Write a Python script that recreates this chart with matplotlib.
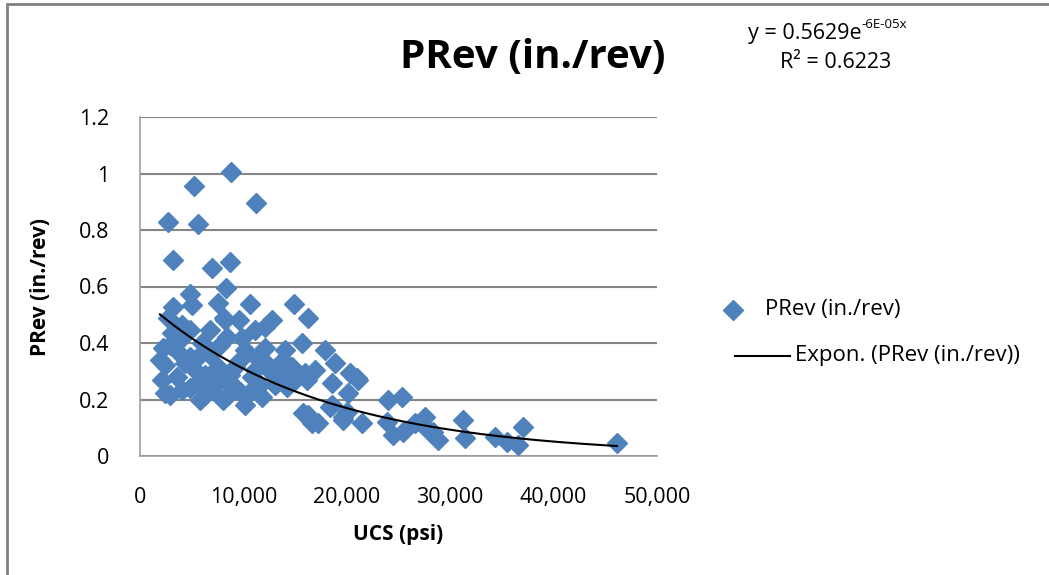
import numpy as np
import matplotlib
matplotlib.use("Agg")
import matplotlib.pyplot as plt
from matplotlib.patches import Rectangle
from matplotlib.lines import Line2D
from matplotlib.ticker import FuncFormatter

plt.rcParams['font.family'] = ['Open Sans', 'DejaVu Sans']

# UCS (psi) and PRev (in./rev) values
ucs = [8800, 5220, 11220, 2710, 5610, 3190, 6960, 8700, 8320, 4840,
       10640, 14890, 5030, 7540, 3190, 2710, 16250, 8120, 9570, 12760,
       12090, 4060, 3090, 8220, 8410, 9860, 6000, 2220, 3670, 4840,
       2420, 4350, 7540, 9190, 12090, 11310, 13830, 14700, 15670, 15960,
       2130, 3580, 6290, 8220, 10830, 12760, 2420, 6960, 9190, 14210,
       5800, 8030, 11800, 10150, 15760, 16630, 17890, 18860, 20980, 16920,
       18570, 16150, 20110, 18570, 16250, 20020, 21470, 17210, 19630, 20310,
       21080, 18370, 23980, 25340, 23880, 24470, 25430, 26590, 27560, 27850,
       28820, 31230, 31430, 34330, 35490, 36550, 37040, 46130, 19630, 28330,
       1930, 2900, 3870, 4840, 5320, 5800, 6770, 7250, 7740, 8700,
       9670, 9670, 10150, 10640, 11120, 11600, 12380, 13050, 13540, 14020,
       14990, 5800, 6290, 8510, 4060, 2900, 4840, 11120, 6770]
prev = [1.005, 0.956, 0.896, 0.828, 0.821, 0.694, 0.666, 0.687, 0.595, 0.573,
        0.538, 0.538, 0.535, 0.542, 0.527, 0.489, 0.489, 0.489, 0.481, 0.481,
        0.457, 0.464, 0.435, 0.481, 0.421, 0.418, 0.400, 0.382, 0.368, 0.350,
        0.322, 0.329, 0.315, 0.315, 0.382, 0.347, 0.340, 0.315, 0.400, 0.294,
        0.269, 0.280, 0.287, 0.269, 0.280, 0.294, 0.223, 0.234, 0.244, 0.244,
        0.198, 0.198, 0.209, 0.181, 0.152, 0.117, 0.375, 0.329, 0.276, 0.304,
        0.258, 0.269, 0.223, 0.181, 0.145, 0.156, 0.117, 0.117, 0.138, 0.294,
        0.269, 0.173, 0.198, 0.209, 0.120, 0.074, 0.085, 0.117, 0.138, 0.092,
        0.057, 0.127, 0.064, 0.067, 0.050, 0.039, 0.103, 0.046, 0.127, 0.085,
        0.340, 0.393, 0.411, 0.446, 0.304, 0.269, 0.358, 0.251, 0.393, 0.287,
        0.340, 0.227, 0.375, 0.227, 0.304, 0.251, 0.322, 0.251, 0.287, 0.375,
        0.269, 0.358, 0.216, 0.216, 0.234, 0.216, 0.241, 0.446, 0.446]

# exponential trendline as reported on the chart
fit_a = 0.5629
fit_b = -6e-05
fit_r2 = 0.6223

blue = '#4f81bd'
grid_gray = '#868686'

fig = plt.figure(figsize=(10.49, 5.75), dpi=100)
fig.patches.append(Rectangle((7 / 1049, -0.1), 1.2, (1 - 4 / 575) + 0.1,
                             transform=fig.transFigure, fill=False,
                             edgecolor='#808080', linewidth=2))

ax = fig.add_axes([140 / 1049, 1 - 456 / 575, 517 / 1049, 339 / 575])
ax.plot(ucs, prev, linestyle='none', marker='D', markersize=9.8,
        color=blue, markeredgecolor=blue, zorder=3)

xs = np.linspace(min(ucs), max(ucs), 200)
ax.plot(xs, fit_a * np.exp(fit_b * xs), color='black', linewidth=1.5, zorder=4)

ax.set_xlim(0, 50000)
ax.set_ylim(0, 1.2)
ax.set_xticks(np.arange(0, 50001, 10000))
ax.set_yticks([0, 0.2, 0.4, 0.6, 0.8, 1.0, 1.2])
ax.xaxis.set_major_formatter(FuncFormatter(lambda v, p: f'{int(v):,}'))
ax.yaxis.set_major_formatter(FuncFormatter(lambda v, p: f'{v:g}'))
ax.tick_params(axis='both', labelsize=15.5, length=0)
ax.tick_params(axis='x', pad=22)
ax.tick_params(axis='y', pad=22)
ax.grid(axis='y', color=grid_gray, linewidth=1.5)
ax.set_axisbelow(True)
for s in ['top', 'right']:
    ax.spines[s].set_visible(False)
for s in ['left', 'bottom']:
    ax.spines[s].set_color('#a0a0a0')
    ax.spines[s].set_linewidth(1.2)

ax.set_xlabel('UCS (psi)', fontsize=15, fontweight='bold', labelpad=12)
ax.set_ylabel('PRev (in./rev)', fontsize=15, fontweight='bold', labelpad=20)

fig.text(533 / 1049, 1 - 58 / 575, 'PRev (in./rev)', fontsize=29,
         fontweight='bold', ha='center', va='center')
eq = fig.text(748 / 1049, 1 - 33 / 575, f'y = {fit_a}e', fontsize=15.5,
              ha='left', va='center')
fig.canvas.draw()
bb = eq.get_window_extent()
fig.text(bb.x1 / 1049, 1 - 25 / 575, '-6E-05x', fontsize=9.5,
         ha='left', va='center')
fig.text(836 / 1049, 1 - 63 / 575, f'R² = {fit_r2}', fontsize=15.5,
         ha='center', va='center')

# legend drawn by hand to copy the Excel layout
fig.add_artist(Line2D([733 / 1049], [1 - 310 / 575], linestyle='none',
                      marker='D', markersize=9.8, color=blue,
                      transform=fig.transFigure))
fig.text(765 / 1049, 1 - 310 / 575, 'PRev (in./rev)', fontsize=16,
         ha='left', va='center')
fig.add_artist(Line2D([735 / 1049, 790 / 1049], [1 - 356 / 575] * 2,
                      color='black', linewidth=1.5,
                      transform=fig.transFigure))
fig.text(795 / 1049, 1 - 356 / 575, 'Expon. (PRev (in./rev))', fontsize=16,
         ha='left', va='center')

fig.savefig('out.png', dpi=100)
